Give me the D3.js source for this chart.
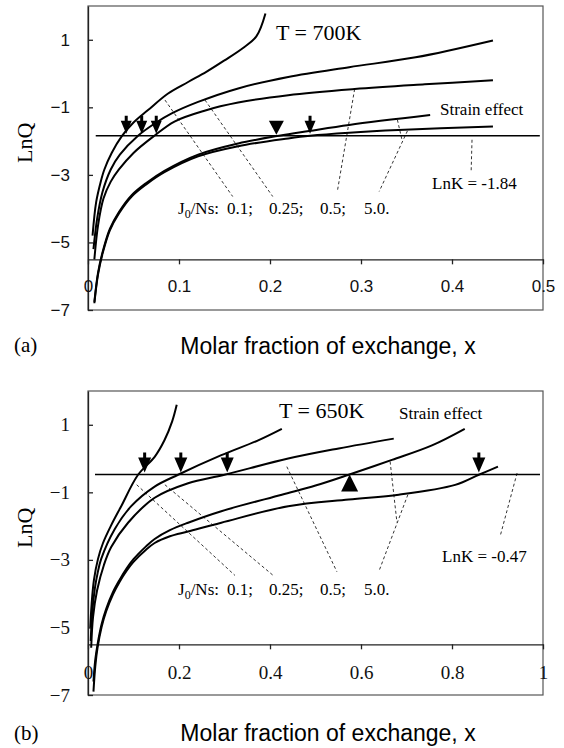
<!DOCTYPE html>
<html lang="en">
<head>
<meta charset="UTF-8">
<title>LnQ vs molar fraction</title>
<script src="https://d3js.org/d3.v7.min.js"></script>
<style>
  body { margin: 0; background: #fff; }
  .serif { font-family: "Liberation Serif", "Times New Roman", serif; }
  .sans { font-family: "Liberation Sans", Arial, sans-serif; }
</style>
</head>
<body>
<div id="chart"></div>
<script>
// ---- data ----
const yTicks = [-7, -5, -3, -1, 1];
const xTicksA = [0, 0.1, 0.2, 0.3, 0.4, 0.5];
const xTicksB = [0, 0.2, 0.4, 0.6, 0.8, 1];
const jLabels = ["0.1;", "0.25;", "0.5;", "5.0."];

// panel (a), T = 700K : [x, LnQ]
const a01 = [[0.005,-4.8],[0.009,-3.8],[0.014,-3.2],[0.018,-2.84],[0.026,-2.35],[0.037,-1.86],[0.05,-1.45],[0.066,-1.08],[0.088,-0.59],[0.11,-0.25],[0.13,0.05],[0.15,0.39],[0.17,0.75],[0.185,1.1],[0.195,1.78]];
const a025 = [[0.006,-5.2],[0.01,-4.3],[0.016,-3.5],[0.025,-2.84],[0.035,-2.4],[0.055,-1.84],[0.075,-1.45],[0.092,-1.18],[0.121,-0.84],[0.165,-0.44],[0.22,-0.1],[0.287,0.19],[0.36,0.48],[0.445,0.98]];
const a05 = [[0.007,-5.5],[0.011,-4.5],[0.017,-3.7],[0.025,-3.2],[0.034,-2.84],[0.05,-2.35],[0.073,-1.84],[0.095,-1.42],[0.128,-1.1],[0.165,-0.86],[0.22,-0.64],[0.293,-0.46],[0.37,-0.32],[0.445,-0.2]];
const aStrain = [[0.007,-6.76],[0.011,-5.9],[0.016,-5.29],[0.024,-4.6],[0.034,-4.1],[0.048,-3.6],[0.064,-3.24],[0.084,-2.88],[0.121,-2.4],[0.165,-2.07],[0.21,-1.84],[0.243,-1.7],[0.287,-1.52],[0.376,-1.23]];
const a50 = [[0.007,-6.8],[0.011,-5.95],[0.016,-5.33],[0.024,-4.64],[0.034,-4.14],[0.048,-3.64],[0.064,-3.28],[0.084,-2.92],[0.121,-2.45],[0.165,-2.15],[0.22,-1.92],[0.244,-1.84],[0.287,-1.75],[0.341,-1.67],[0.445,-1.57]];
const lnKA = -1.84;
const lnKSpanA = [0.0085, 0.4965];
const arrowsA = [0.042, 0.059, 0.075, 0.244];
const triDownA = [0.207];
const leadersA = [
  [[0.0846,-0.785],[0.159,-3.64]],
  [[0.1286,-0.785],[0.203,-3.64]],
  [[0.293,-0.46],[0.274,-3.49]],
  [[0.340,-1.37],[0.345,-1.96]],
  [[0.351,-1.70],[0.32,-3.49]],
  [[0.422,-1.96],[0.421,-2.93]]
];

// panel (b), T = 650K
const b01 = [[0.005,-5.0],[0.008,-4.3],[0.013,-3.6],[0.022,-2.97],[0.033,-2.5],[0.05,-2.0],[0.073,-1.41],[0.11,-0.48],[0.1465,0.05],[0.168,0.54],[0.185,1.1],[0.195,1.59]];
const b025 = [[0.006,-5.4],[0.009,-4.6],[0.015,-3.85],[0.021,-3.4],[0.029,-2.97],[0.0586,-2.09],[0.095,-1.41],[0.1465,-0.83],[0.198,-0.48],[0.293,0.1],[0.374,0.54],[0.426,0.88]];
const b05 = [[0.007,-5.6],[0.011,-4.7],[0.02,-3.9],[0.035,-3.15],[0.051,-2.62],[0.088,-1.9],[0.1465,-1.16],[0.22,-0.73],[0.30,-0.48],[0.44,0.0],[0.551,0.3],[0.672,0.59]];
const bStrain = [[0.012,-6.6],[0.016,-5.95],[0.021,-5.5],[0.03,-4.9],[0.04,-4.45],[0.055,-3.95],[0.069,-3.6],[0.085,-3.25],[0.1,-2.98],[0.1275,-2.6],[0.1465,-2.38],[0.18,-2.12],[0.22,-1.9],[0.293,-1.56],[0.426,-1.07],[0.5,-0.8],[0.573,-0.48],[0.668,-0.04],[0.756,0.39],[0.828,0.88]];
const b50 = [[0.012,-6.9],[0.016,-6.15],[0.021,-5.6],[0.03,-4.98],[0.04,-4.52],[0.055,-4.02],[0.069,-3.66],[0.085,-3.32],[0.1,-3.06],[0.1275,-2.7],[0.1465,-2.5],[0.18,-2.3],[0.22,-2.16],[0.293,-1.9],[0.44,-1.41],[0.573,-1.21],[0.683,-1.07],[0.807,-0.78],[0.859,-0.48],[0.901,-0.24]];
const lnKB = -0.47;
const lnKSpanB = [0.0154, 0.9934];
const arrowsB = [0.1245, 0.204, 0.306, 0.859];
const triUpB = [0.575];
const leadersB = [
  [[0.107,-0.775],[0.323,-3.46]],
  [[0.169,-0.775],[0.407,-3.46]],
  [[0.437,-0.24],[0.547,-3.35]],
  [[0.664,-0.09],[0.679,-1.89]],
  [[0.703,-1.07],[0.639,-3.35]],
  [[0.943,-0.43],[0.906,-2.29]]
];

// ---- drawing ----
const svg = d3.select("#chart").append("svg")
  .attr("width", 564).attr("height", 748);

const left = 88, right = 543, plotH = 304;

function drawPanel(p) {
  const g = svg.append("g").attr("transform", `translate(0,${p.top})`);
  const x = d3.scaleLinear().domain(p.xDomain).range([left, right]);
  const y = d3.scaleLinear().domain([-7, 2]).range([plotH, 0]);

  // frame
  g.append("rect")
    .attr("x", left).attr("y", 0)
    .attr("width", right - left).attr("height", plotH)
    .attr("fill", "none").attr("stroke", "#555").attr("stroke-width", 1.2);

  // y axis
  const ya = g.append("g")
    .attr("transform", `translate(${left},0)`)
    .call(d3.axisLeft(y).tickValues(yTicks).tickSizeInner(-5).tickSizeOuter(0).tickPadding(18));
  ya.selectAll("text").attr("class", p.tickFont).attr("font-size", p.tickSize).attr("fill", "#111");

  // x axis sits at LnQ = -5.5
  const xa = g.append("g")
    .attr("transform", `translate(0,${y(-5.5)})`)
    .call(d3.axisBottom(x).tickValues(p.xTicks).tickFormat(d => String(d)).tickSize(5).tickSizeOuter(0).tickPadding(16));
  xa.selectAll("text").attr("class", p.tickFont).attr("font-size", p.tickSize).attr("fill", "#111");
  g.selectAll(".domain, .tick line").attr("stroke", "#222").attr("stroke-width", 1.3);

  // LnK line
  g.append("line")
    .attr("x1", x(p.lnKSpan[0])).attr("x2", x(p.lnKSpan[1]))
    .attr("y1", y(p.lnK)).attr("y2", y(p.lnK))
    .attr("stroke", "#000").attr("stroke-width", 1.6);

  // leader lines
  g.selectAll(".leader").data(p.leaders).join("line")
    .attr("x1", d => x(d[0][0])).attr("y1", d => y(d[0][1]))
    .attr("x2", d => x(d[1][0])).attr("y2", d => y(d[1][1]))
    .attr("stroke", "#000").attr("stroke-width", 0.8)
    .attr("stroke-dasharray", "3,2.5");

  // curves
  const line = d3.line()
    .x(d => x(d[0])).y(d => y(d[1]))
    .curve(d3.curveCatmullRom.alpha(0.5));
  g.selectAll(".curve").data(p.series).join("path")
    .attr("d", line)
    .attr("fill", "none").attr("stroke", "#000").attr("stroke-width", 2);

  // arrows pointing at crossings
  const ah = p.arrow;
  const arrowPath = `M-1.5,${-ah.h - 5}L1.5,${-ah.h - 5}L1.5,${-ah.h}L${ah.w / 2},${-ah.h}L0,0L${-ah.w / 2},${-ah.h}L-1.5,${-ah.h}Z`;
  g.selectAll(".arrow").data(p.arrows).join("path")
    .attr("d", arrowPath)
    .attr("transform", d => `translate(${x(d)},${y(p.lnK) - 2})`)
    .attr("fill", "#000");

  const t = p.tri;
  g.selectAll(".tri").data(p.tris).join("path")
    .attr("d", t.up ? `M0,0L${t.w / 2},${t.h}L${-t.w / 2},${t.h}Z` : `M0,0L${t.w / 2},${-t.h}L${-t.w / 2},${-t.h}Z`)
    .attr("transform", d => `translate(${x(d)},${y(p.lnK) + (t.up ? 0 : -1)})`)
    .attr("fill", "#000");

  // texts
  g.append("text").attr("class", "serif").attr("font-size", 22)
    .attr("x", p.tPos[0]).attr("y", p.tPos[1]).text(p.tLabel);
  g.append("text").attr("class", "serif").attr("font-size", 17)
    .attr("x", p.strainPos[0]).attr("y", p.strainPos[1]).text("Strain effect");
  g.append("text").attr("class", "serif").attr("font-size", 17)
    .attr("x", p.lnKPos[0]).attr("y", p.lnKPos[1]).text(p.lnKLabel);

  const jt = g.append("text").attr("class", "serif").attr("font-size", 17)
    .attr("x", 178).attr("y", p.jY);
  jt.append("tspan").text("J");
  jt.append("tspan").attr("font-size", 12).attr("dy", 4).text("0");
  jt.append("tspan").attr("dy", -4).text("/Ns:");
  jt.selectAll(".jv").data(jLabels).join("tspan")
    .attr("x", (d, i) => [227, 269, 320, 364][i])
    .text(d => d);

  g.append("text").attr("class", "serif").attr("font-size", 22)
    .attr("text-anchor", "middle")
    .attr("transform", `translate(32,${plotH * 0.45}) rotate(-90)`)
    .text("LnQ");

  g.append("text").attr("class", "serif").attr("font-size", 21)
    .attr("x", 14).attr("y", p.tagY).text(p.tag);
  g.append("text").attr("class", "sans").attr("font-size", 23)
    .attr("text-anchor", "middle")
    .attr("x", 328).attr("y", p.titleY)
    .text("Molar fraction of exchange, x");
}

drawPanel({
  top: 6, xDomain: [0, 0.5], xTicks: xTicksA, tickFont: "sans", tickSize: 17,
  series: [a01, a025, a05, aStrain, a50],
  lnK: lnKA, lnKSpan: lnKSpanA, leaders: leadersA,
  arrows: arrowsA, arrow: { w: 11, h: 13 },
  tris: triDownA, tri: { w: 15, h: 14, up: false },
  tLabel: "T = 700K", tPos: [276, 34], strainPos: [440, 109],
  lnKLabel: "LnK = -1.84", lnKPos: [432, 183], jY: 208,
  tag: "(a)", tagY: 346, titleY: 348
});

drawPanel({
  top: 391, xDomain: [0, 1], xTicks: xTicksB, tickFont: "serif", tickSize: 19,
  series: [b01, b025, b05, bStrain, b50],
  lnK: lnKB, lnKSpan: lnKSpanB, leaders: leadersB,
  arrows: arrowsB, arrow: { w: 13, h: 15 },
  tris: triUpB, tri: { w: 17, h: 17, up: true },
  tLabel: "T = 650K", tPos: [279, 27], strainPos: [399, 28],
  lnKLabel: "LnK = -0.47", lnKPos: [442, 171], jY: 204,
  tag: "(b)", tagY: 349, titleY: 350
});
</script>
</body>
</html>
